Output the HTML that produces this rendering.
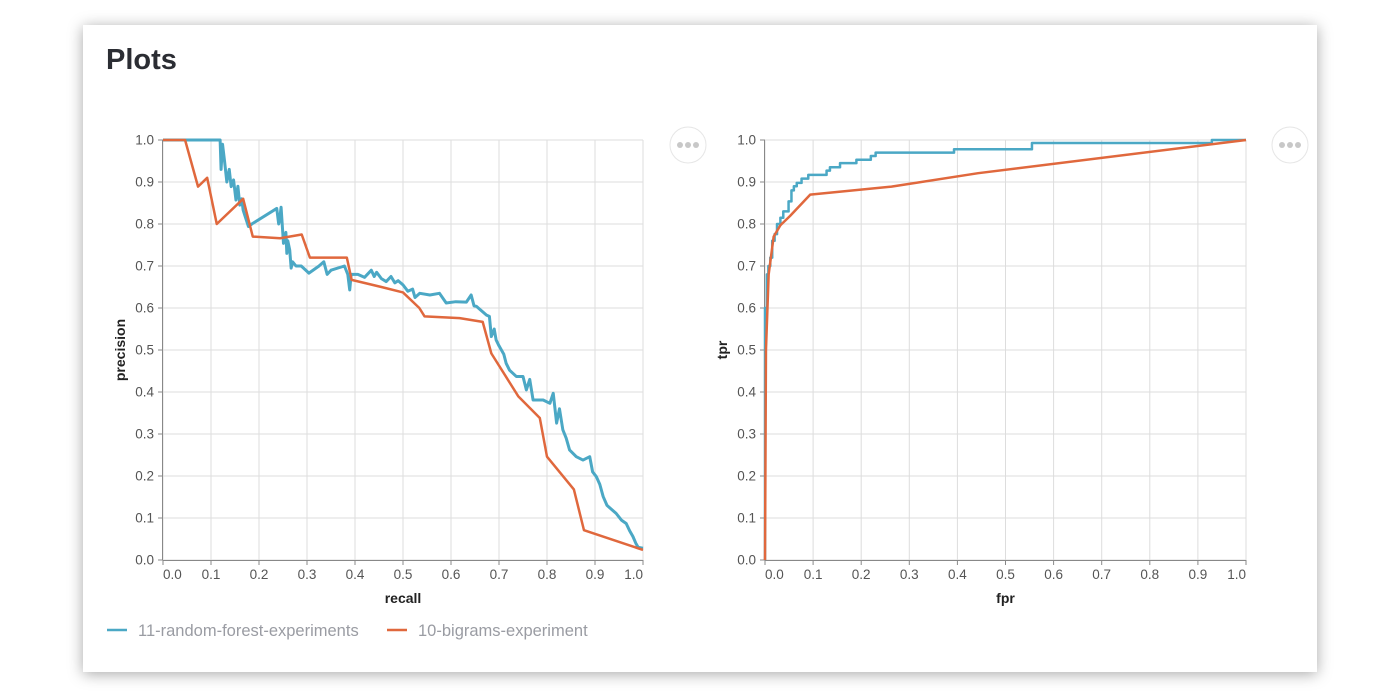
<!DOCTYPE html>
<html><head><meta charset="utf-8">
<style>
html,body{margin:0;padding:0;background:#fff;width:1400px;height:697px;overflow:hidden;font-family:"Liberation Sans",sans-serif;}
#card{position:absolute;left:83px;top:25px;width:1234px;height:647px;background:#fff;box-shadow:0 2px 14px rgba(0,0,0,0.35);}
#title{position:absolute;left:23px;top:19px;font-size:29px;font-weight:bold;color:#2b2d33;margin:0;}
svg{position:absolute;left:0;top:0;}
</style></head>
<body>
<div id="card">
<h1 id="title">Plots</h1>
</div>
<svg id="chart" width="1400" height="697"></svg>
<script>
const prTicks=[0,0.1,0.2,0.3,0.4,0.5,0.6,0.7,0.8,0.9,1.0];
const rfRecall=[0,0.119,0.121,0.124,0.128,0.133,0.138,0.142,0.147,0.152,0.156,0.16,0.164,0.167,0.172,0.178,0.185,0.237,0.241,0.243,0.246,0.251,0.256,0.258,0.26,0.264,0.267,0.27,0.277,0.288,0.304,0.325,0.335,0.342,0.35,0.378,0.385,0.389,0.392,0.406,0.42,0.434,0.44,0.445,0.455,0.465,0.475,0.483,0.49,0.5,0.51,0.52,0.525,0.535,0.556,0.576,0.59,0.61,0.632,0.642,0.648,0.653,0.674,0.68,0.684,0.69,0.694,0.7,0.705,0.71,0.715,0.722,0.736,0.75,0.757,0.764,0.771,0.792,0.806,0.813,0.82,0.826,0.833,0.84,0.847,0.861,0.875,0.889,0.895,0.903,0.91,0.917,0.925,0.935,0.944,0.955,0.965,0.972,0.979,0.985,0.99,1.0];
const rfPrecision=[1.0,1.0,0.93,0.99,0.952,0.9,0.93,0.889,0.905,0.857,0.89,0.845,0.86,0.833,0.815,0.794,0.80,0.837,0.8,0.81,0.84,0.754,0.78,0.73,0.76,0.738,0.695,0.71,0.70,0.70,0.683,0.70,0.71,0.68,0.69,0.70,0.68,0.643,0.68,0.68,0.673,0.69,0.675,0.685,0.67,0.663,0.675,0.66,0.665,0.655,0.64,0.645,0.625,0.635,0.631,0.635,0.612,0.615,0.614,0.631,0.605,0.604,0.583,0.58,0.532,0.55,0.524,0.51,0.5,0.49,0.468,0.452,0.437,0.437,0.405,0.43,0.381,0.381,0.373,0.397,0.326,0.36,0.31,0.29,0.262,0.246,0.238,0.246,0.21,0.198,0.18,0.151,0.13,0.12,0.111,0.095,0.087,0.07,0.056,0.04,0.03,0.028];
const bgRecall=[0,0.046,0.073,0.092,0.112,0.167,0.187,0.244,0.289,0.306,0.383,0.393,0.455,0.5,0.534,0.545,0.618,0.666,0.684,0.74,0.785,0.8,0.856,0.877,1.0];
const bgPrecision=[1.0,1.0,0.889,0.91,0.80,0.86,0.77,0.766,0.775,0.72,0.72,0.667,0.65,0.637,0.60,0.58,0.576,0.567,0.492,0.39,0.338,0.246,0.168,0.071,0.024];
const rfFpr=[0,0,0.004,0.007,0.011,0.015,0.02,0.025,0.032,0.038,0.049,0.055,0.06,0.066,0.076,0.09,0.128,0.135,0.156,0.19,0.22,0.23,0.393,0.555,0.929,1.0];
const rfTpr=[0,0.6,0.68,0.70,0.72,0.76,0.776,0.80,0.815,0.83,0.854,0.88,0.89,0.898,0.908,0.917,0.927,0.935,0.945,0.953,0.962,0.97,0.978,0.993,1.0,1.0];
const bgFpr=[0,0.002,0.0076,0.018,0.032,0.052,0.094,0.263,0.443,1.0];
const bgTpr=[0,0.5,0.68,0.77,0.797,0.819,0.87,0.889,0.921,1.0];

const svg=document.getElementById('chart');
const NS='http://www.w3.org/2000/svg';
function mk(tag,attrs,parent){const e=document.createElementNS(NS,tag);for(const k in attrs)e.setAttribute(k,attrs[k]);(parent||svg).appendChild(e);return e;}
const BLUE='#4ba8c5',ORANGE='#e0683d';

function drawPanel(x0,x1,y0,y1,xTitle,yTitle,name){
  const g=mk('g',{});
  
  
  const xs=v=>x0+(x1-x0)*v, ys=v=>y0-(y0-y1)*v;
  prTicks.forEach((t,i)=>{
    const gx=mk('line',{x1:xs(t),x2:xs(t),y1:y1,y2:y0,stroke:'#ddd','stroke-width':1},g);
    
    
    const gy=mk('line',{x1:x0,x2:x1,y1:ys(t),y2:ys(t),stroke:'#ddd','stroke-width':1},g);
    
    
    mk('line',{x1:xs(t),x2:xs(t),y1:y0,y2:y0+5,stroke:'#888'},g);
    mk('line',{x1:x0-5,x2:x0,y1:ys(t),y2:ys(t),stroke:'#888'},g);
    const anchor=i===0?'start':(i===prTicks.length-1?'end':'middle');
    const xl=mk('text',{x:xs(t),y:y0+19,'text-anchor':anchor,'font-size':13.5,fill:'#555'},g);
    xl.textContent=t.toFixed(1);
    
    
    const yl=mk('text',{x:x0-9,y:ys(t)+4.5,'text-anchor':'end','font-size':13.5,fill:'#555'},g);
    yl.textContent=t.toFixed(1);
    
    
  });
  mk('line',{x1:x0,x2:x1,y1:y0+0.5,y2:y0+0.5,stroke:'#888'},g);
  mk('line',{x1:x0-0.5,x2:x0-0.5,y1:y1,y2:y0,stroke:'#888'},g);
  const xt=mk('text',{x:(x0+x1)/2,y:y0+43,'text-anchor':'middle','font-size':14,'font-weight':'bold',fill:'#222'},g);
  xt.textContent=xTitle;
  
  
  const yt=mk('text',{x:0,y:0,'text-anchor':'middle','font-size':14,'font-weight':'bold',fill:'#222',transform:`translate(${x0-38},${(y0+y1)/2}) rotate(-90)`},g);
  yt.textContent=yTitle;
  
  
  return {xs,ys,g};
}
function line(p,xv,yv,color,step,name,w){
  let d='';
  for(let i=0;i<xv.length;i++){
    const X=p.xs(xv[i]),Y=p.ys(yv[i]);
    if(i===0)d+=`M${X},${Y}`;
    else if(step){d+=`H${X}V${Y}`;}
    else d+=`L${X},${Y}`;
  }
  const e=mk('path',{d:d,fill:'none',stroke:color,'stroke-width':w,'stroke-linejoin':'round'},p.g);
  
  
}
const pr=drawPanel(163,643,560,140,'recall','precision','precision-recall-chart');
line(pr,rfRecall,rfPrecision,BLUE,false,'rf-pr-line',3);
line(pr,bgRecall,bgPrecision,ORANGE,false,'bigrams-pr-line',2.5);
const roc=drawPanel(765,1246,560,140,'fpr','tpr','roc-chart');
line(roc,rfFpr,rfTpr,BLUE,true,'rf-roc-line',2.5);
line(roc,bgFpr,bgTpr,ORANGE,false,'bigrams-roc-line',2.5);

function menu(cx,name){
  const g=mk('g',{});
  
  
  mk('circle',{cx:cx,cy:145,r:18,fill:'#fff',stroke:'#e6e6e6','stroke-width':1},g);
  [-8,0,8].forEach(d=>mk('circle',{cx:cx+d,cy:145,r:3,fill:'#c8c8c8'},g));
}
menu(688,'pr-chart-menu');
menu(1290,'roc-chart-menu');

const leg=[[107,BLUE,'11-random-forest-experiments'],[387,ORANGE,'10-bigrams-experiment']];
leg.forEach(l=>{
  const g=mk('g',{});
  
  
  mk('line',{x1:l[0],x2:l[0]+20,y1:630,y2:630,stroke:l[1],'stroke-width':2.5},g);
  const t=mk('text',{x:l[0]+31,y:636,'font-size':16.5,fill:'#9a9ca3'},g);
  t.textContent=l[2];
});
</script>
</body></html>
